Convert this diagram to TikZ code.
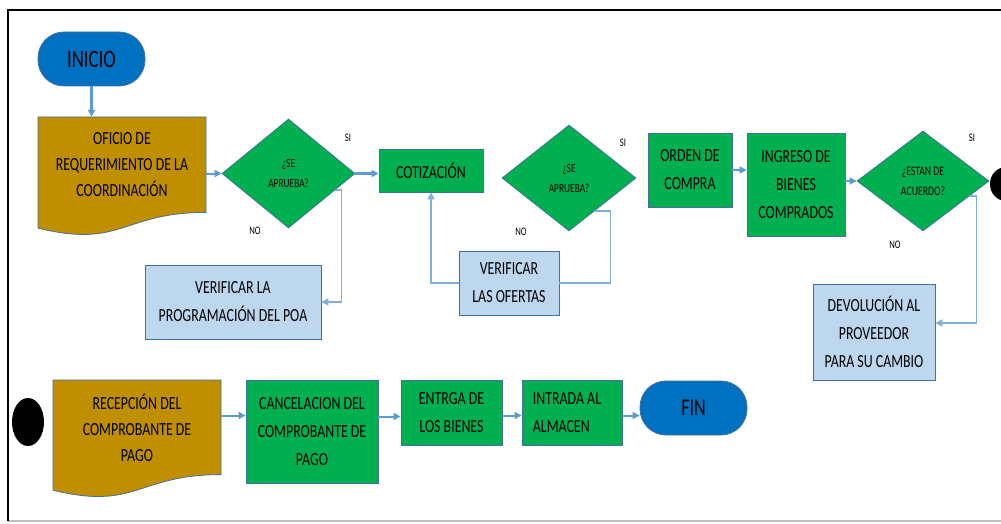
\documentclass[tikz,border=0pt]{standalone}
\usepackage{fontspec}
\setmainfont[FakeStretch=0.75]{Carlito}
\usetikzlibrary{shapes.geometric,arrows.meta,calc}
\definecolor{tblue}{HTML}{0070C0}
\definecolor{gold}{HTML}{BF8F00}
\definecolor{fgreen}{HTML}{00B050}
\definecolor{lblue}{HTML}{BDD7EE}
\definecolor{edgec}{HTML}{41719C}
\definecolor{conn}{HTML}{5B9BD5}
\definecolor{loopc}{HTML}{7FAFDD}
\begin{document}
\begin{tikzpicture}[x=1pt,y=-1pt,
  boxst/.style={draw=edgec, line width=0.8pt, align=center, inner sep=0pt, font={\fontsize{18.5}{28}\selectfont}},
  proc/.style={boxst, fill=fgreen},
  notebox/.style={boxst, fill=lblue},
  docst/.style={draw=edgec, line width=0.8pt, fill=gold},
  doctext/.style={align=center, inner sep=0pt, font={\fontsize{18.5}{26}\selectfont}},
  term/.style={draw=edgec, line width=0.8pt, fill=tblue, rounded corners=26pt, inner sep=0pt, font={\fontsize{25}{28}\selectfont}},
  decision/.style={diamond, draw=edgec, line width=0.8pt, fill=fgreen, inner sep=0pt, align=center, font={\fontsize{12.5}{20}\selectfont}},
  lbl/.style={inner sep=0pt, font={\fontsize{11.5}{12}\selectfont}},
  dot/.style={ellipse, fill=black, inner sep=0pt},
  arr/.style={conn, line width=2pt, -{Triangle[length=7pt,width=7pt]}},
  arrthick/.style={arr, line width=2.6pt},
  loopline/.style={loopc, line width=1.6pt},
  looparr/.style={loopline, -{Triangle[length=7pt,width=7pt]}}
]
\useasboundingbox (0,0) rectangle (1001,524);
\clip (0,0) rectangle (1001,524);
\fill[white] (0,0) rectangle (1001,524);

% frame
\draw[black!25, line width=2pt] (8,521) -- (1001,521);
\draw[black, line width=1.5pt] (8,521) -- (8,10) -- (1001,10);

% ---------- top row ----------
\node[term, minimum width=107pt, minimum height=54pt] (inicio) at (91.5,59) {INICIO};

\draw[docst] (38,117) -- (206,117) -- (206,212.4) .. controls (122,212.4) and (122,248.8) .. (38,228.1) -- cycle;
\node[doctext, minimum width=168pt, minimum height=95pt] (oficio) at (122,164.5) {OFICIO DE\\REQUERIMIENTO DE LA\\COORDINACIÓN};

\node[decision, minimum width=133pt, minimum height=109pt] (d1) at (288.5,173.5) {¿SE\\APRUEBA?};
\node[proc, minimum width=104pt, minimum height=43pt] (cot) at (431,170.5) {COTIZACIÓN};
\node[notebox, minimum width=176pt, minimum height=74pt] (verpoa) at (233,302) {VERIFICAR LA\\PROGRAMACIÓN DEL POA};

\node[decision, minimum width=134pt, minimum height=106pt] (d2) at (569,178) {¿SE\\APRUEBA?};
\node[notebox, minimum width=100pt, minimum height=64pt] (verof) at (509,283) {VERIFICAR\\LAS OFERTAS};

\node[proc, minimum width=84pt, minimum height=74pt] (orden) at (690,170) {ORDEN DE\\COMPRA};
\node[proc, minimum width=98pt, minimum height=103pt] (ingreso) at (796,184.5) {INGRESO DE\\BIENES\\COMPRADOS};
\node[decision, minimum width=132pt, minimum height=100pt, font={\fontsize{13}{20}\selectfont}] (d3) at (923,181) {¿ESTAN DE\\ACUERDO?};
\node[dot, minimum width=32pt, minimum height=34pt] (circR) at (1006,184) {};
\node[notebox, minimum width=122pt, minimum height=96pt] (devol) at (874,332) {DEVOLUCIÓN AL\\PROVEEDOR\\PARA SU CAMBIO};

% labels
\node[lbl] (si1) at (348,138) {SI};
\node[lbl] (no1) at (255,231) {NO};
\node[lbl] (si2) at (623,143) {SI};
\node[lbl] (no2) at (521,232) {NO};
\node[lbl] (si3) at (972,138) {SI};
\node[lbl] (no3) at (895,245) {NO};

% ---------- bottom row ----------
\node[dot, minimum width=32pt, minimum height=48pt] (circL) at (28,422) {};
\draw[docst] (53,380) -- (221,380) -- (221,474.6) .. controls (137,474.6) and (137,510.7) .. (53,490.2) -- cycle;
\node[doctext, minimum width=168pt, minimum height=95pt] (recep) at (137,427.5) {RECEPCIÓN DEL\\COMPROBANTE DE\\PAGO};
\node[proc, minimum width=132pt, minimum height=103pt] (cancel) at (312,431.5) {CANCELACION DEL\\COMPROBANTE DE\\PAGO};
\node[proc, minimum width=101pt, minimum height=65pt] (entrega) at (451.5,412.5) {ENTRGA DE\\LOS BIENES};
\node[proc, minimum width=100pt, minimum height=65pt, align=left] (intrada) at (572,412.5) {INTRADA AL\hspace*{10pt}\\ALMACEN};
\node[term, minimum width=107pt, minimum height=54pt, font={\fontsize{24}{28}\selectfont}] (fin) at (693.5,408) {FIN};

% ---------- connectors ----------
\draw[arrthick] (inicio.south) -- (inicio.south |- oficio.north);
\draw[arr] (oficio.east |- d1.west) -- (d1.west);
\draw[arrthick] (d1.east) -- (d1.east -| cot.west);
\draw[looparr] ($(d1.east)!0.3!(d1.south)$) -| ([xshift=20pt]verpoa.east) -- (verpoa.east);
\draw[loopline] ($(d2.east)!0.62!(d2.south)$) -| ([xshift=51pt]verof.east) -- (verof.east);
\draw[looparr] (verof.west) -| (cot.south);
\draw[arr, line width=1.6pt] (orden.east) -- (orden.east -| ingreso.west);
\draw[arr, line width=1.6pt] (ingreso.east |- d3.west) -- (d3.west);
\draw[looparr] ($(d3.east)!0.3!(d3.south)$) -| ([xshift=41pt,yshift=9pt]devol.east) -- ([yshift=9pt]devol.east);

\draw[arr] ([yshift=12pt]recep.east) -- ([yshift=12pt]recep.east -| cancel.west);
\draw[arr] ([yshift=-4pt]entrega.west -| cancel.east) -- ([yshift=-4pt]entrega.west);
\draw[arr] ([yshift=-3pt]entrega.east) -- ([yshift=-3pt]entrega.east -| intrada.west);
\draw[arr] ([yshift=-3pt]intrada.east) -- ([yshift=-3pt]intrada.east -| fin.west);
\end{tikzpicture}
\end{document}
